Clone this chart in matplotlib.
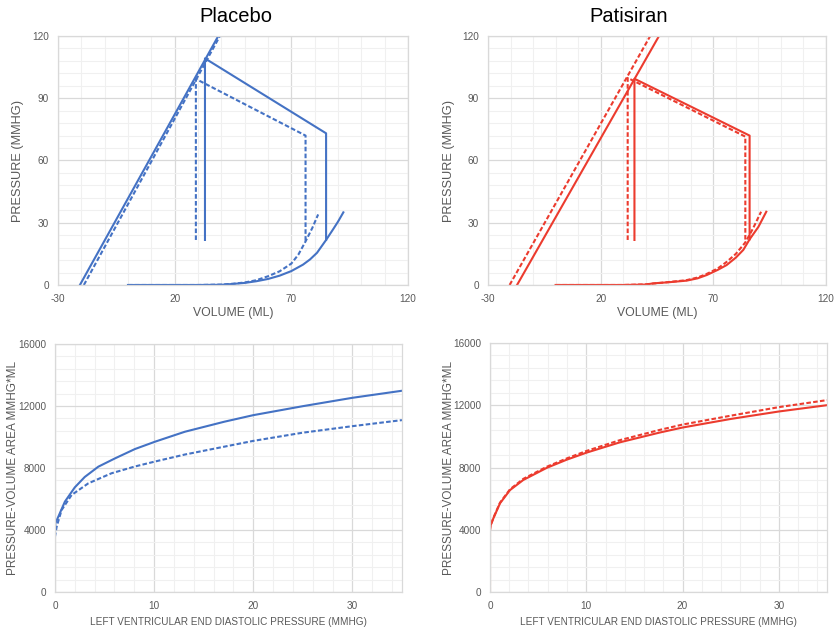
import matplotlib
matplotlib.use("Agg")
import matplotlib.pyplot as plt
from matplotlib.ticker import MultipleLocator

plt.rcParams['font.family'] = ['Liberation Sans', 'DejaVu Sans']
plt.rcParams['axes.unicode_minus'] = False

BLUE = "#4472C4"
RED = "#EC3B2E"
GREY_TXT = "#595959"
MAJ = "#D9D9D9"
MIN = "#F0F0F0"

# ---- top row: pressure-volume loops (volume ml, pressure mmHg) ----
vol_ticks = [-30, 20, 70, 120]
pres_ticks = [0, 30, 60, 90, 120]

# end-systolic pressure-volume relation (two points each)
pl_espvr_v = [-20.6, 38.7]
pl_espvr_p = [0, 120]
pl_espvr_d_v = [-18.9, 39.4]
pl_espvr_d_p = [0, 120]
pa_espvr_v = [-17.1, 45.9]
pa_espvr_p = [0, 120]
pa_espvr_d_v = [-20.4, 42.0]
pa_espvr_d_p = [0, 120]

# loop segments: relaxation line, ejection line, filling drop
pl_loop_v = [33.0, 33.0, 84.9, 84.9]
pl_loop_p = [21.7, 109.2, 73.1, 21.7]
pl_loop_d_v = [29.1, 29.1, 76.1, 76.1]
pl_loop_d_p = [21.7, 99.3, 72.0, 21.0]
pa_loop_v = [35.0, 35.0, 86.1, 86.1]
pa_loop_p = [21.7, 99.4, 72.0, 22.0]
pa_loop_d_v = [32.0, 32.0, 84.2, 84.2]
pa_loop_d_p = [21.7, 99.8, 71.5, 20.5]

# end-diastolic pressure-volume relation
pl_edpvr_v = [0, 30, 40, 45, 50, 55, 60, 65, 70, 75, 78, 81, 84.9, 88, 90, 92.3]
pl_edpvr_p = [0, 0, 0.1, 0.5, 1.0, 1.8, 2.9, 4.5, 6.7, 9.8, 12.3, 15.5, 21.7, 27.0, 30.5, 35.0]
pl_edpvr_d_v = [0, 30, 40, 45, 50, 55, 60, 65, 70, 73, 76.1, 79, 81.5]
pl_edpvr_d_p = [0, 0, 0.2, 0.6, 1.2, 2.3, 4.2, 6.6, 10.3, 14.6, 21.0, 27.5, 34.0]
pa_edpvr_v = [0, 30, 40, 43.4, 50, 58.2, 63, 67.1, 72, 75.9, 80, 83.3, 86.1, 90, 93.5]
pa_edpvr_p = [0, 0, 0.2, 0.8, 1.3, 2.1, 3.2, 4.8, 7.3, 9.6, 13.2, 16.9, 22.0, 28.0, 35.3]
pa_edpvr_d_v = [0, 30, 40, 50, 58, 63, 67, 72, 76, 80, 84.2, 87.5, 91.2]
pa_edpvr_d_p = [0, 0, 0.3, 1.4, 2.3, 3.6, 5.3, 8.0, 11.2, 15.0, 20.5, 27.0, 35.3]

# ---- bottom row: PVA vs LVEDP ----
pl_lvedp = [0, 0, 0.05, 0.34, 1.0, 2.0, 3.0, 4.37, 6.05, 8.07, 10.1, 13.1, 17.1, 20, 25, 30, 35]
pl_pva = [0, 4215, 4450, 4860, 5830, 6750, 7420, 8085, 8620, 9225, 9700, 10340, 10990, 11410, 11990, 12530, 12985]
pl_lvedp_d = [0, 0, 0.17, 0.67, 1.68, 3.36, 5.7, 8.07, 10.1, 13.1, 17.1, 20, 25, 30, 35]
pl_pva_d = [0, 3570, 4215, 5290, 6260, 7010, 7660, 8100, 8420, 8870, 9380, 9750, 10280, 10700, 11090]
pa_lvedp = [0, 0, 0.05, 0.35, 1.04, 2.08, 3.46, 5.9, 7.96, 10, 13.5, 17.65, 20, 25, 30, 35]
pa_pva = [0, 3980, 4250, 4730, 5700, 6550, 7200, 7980, 8500, 8950, 9620, 10250, 10570, 11120, 11600, 12005]
pa_lvedp_d = [0, 0, 0.05, 0.35, 1.04, 2.08, 3.46, 5.9, 7.96, 10, 13.5, 17.65, 20, 25, 30, 35]
pa_pva_d = [0, 3950, 4260, 4760, 5740, 6600, 7270, 8050, 8580, 9060, 9760, 10420, 10760, 11330, 11880, 12330]

fig = plt.figure(figsize=(8.34, 6.28), dpi=100)
ax_tl = fig.add_axes([0.0695, 0.5462, 0.4197, 0.3965])
ax_tr = fig.add_axes([0.5851, 0.5462, 0.4053, 0.3965])
ax_bl = fig.add_axes([0.0659, 0.0573, 0.4161, 0.3949])
ax_br = fig.add_axes([0.5875, 0.0573, 0.4041, 0.3965])

LW = 1.5
DASH = (0, (2.2, 1.1))


def style(ax, xmin, ymin):
    ax.xaxis.set_minor_locator(MultipleLocator(xmin))
    ax.yaxis.set_minor_locator(MultipleLocator(ymin))
    ax.grid(which='minor', color=MIN, lw=0.8)
    ax.grid(which='major', color=MAJ, lw=0.9)
    ax.set_axisbelow(True)
    for s in ax.spines.values():
        s.set_color(MAJ)
        s.set_linewidth(0.9)
    ax.tick_params(which='both', length=0, colors=GREY_TXT, labelsize=7.2)
    ax.tick_params(axis='x', pad=6.5)
    ax.tick_params(axis='y', pad=6.5)


for ax, ylx in ((ax_tl, -0.114), (ax_tr, -0.115)):
    ax.set_xlim(-30, 120)
    ax.set_ylim(0, 120)
    ax.set_xticks(vol_ticks)
    ax.set_yticks(pres_ticks)
    style(ax, 10, 6)
    ax.set_xlabel("VOLUME (ML)", color=GREY_TXT, fontsize=8.8)
    ax.set_ylabel("PRESSURE (MMHG)", color=GREY_TXT, fontsize=9.2)
    ax.xaxis.set_label_coords(0.5, -0.112)
    ax.yaxis.set_label_coords(ylx, 0.5)

for ax in (ax_bl, ax_br):
    ax.set_xlim(0, 35)
    ax.set_ylim(0, 16000)
    ax.set_xticks([0, 10, 20, 30])
    ax.set_yticks([0, 4000, 8000, 12000, 16000])
    style(ax, 2, 800)
    ax.set_xlabel("LEFT VENTRICULAR END DIASTOLIC PRESSURE (MMHG)", color=GREY_TXT,
                  fontsize=7.2)
    ax.set_ylabel("PRESSURE-VOLUME AREA MMHG*ML", color=GREY_TXT, fontsize=8.5)
    ax.xaxis.set_label_coords(0.5, -0.121)
    ax.yaxis.set_label_coords(-0.122, 0.5)

for ax in (ax_tl, ax_tr, ax_bl, ax_br):
    ax.xaxis.label.set_va('center')
    ax.yaxis.label.set_va('center')

# placebo loops
ax_tl.plot(pl_espvr_v, pl_espvr_p, color=BLUE, lw=LW)
ax_tl.plot(pl_espvr_d_v, pl_espvr_d_p, color=BLUE, lw=LW, ls=DASH)
ax_tl.plot(pl_loop_v, pl_loop_p, color=BLUE, lw=LW)
ax_tl.plot(pl_loop_d_v, pl_loop_d_p, color=BLUE, lw=LW, ls=DASH)
ax_tl.plot(pl_edpvr_v, pl_edpvr_p, color=BLUE, lw=LW)
ax_tl.plot(pl_edpvr_d_v, pl_edpvr_d_p, color=BLUE, lw=LW, ls=DASH)

# patisiran loops
ax_tr.plot(pa_espvr_v, pa_espvr_p, color=RED, lw=LW)
ax_tr.plot(pa_espvr_d_v, pa_espvr_d_p, color=RED, lw=LW, ls=DASH)
ax_tr.plot(pa_loop_v, pa_loop_p, color=RED, lw=LW)
ax_tr.plot(pa_loop_d_v, pa_loop_d_p, color=RED, lw=LW, ls=DASH)
ax_tr.plot(pa_edpvr_v, pa_edpvr_p, color=RED, lw=LW)
ax_tr.plot(pa_edpvr_d_v, pa_edpvr_d_p, color=RED, lw=LW, ls=DASH)

# PVA curves
ax_bl.plot(pl_lvedp, pl_pva, color=BLUE, lw=LW)
ax_bl.plot(pl_lvedp_d, pl_pva_d, color=BLUE, lw=LW, ls=DASH)
ax_br.plot(pa_lvedp, pa_pva, color=RED, lw=LW)
ax_br.plot(pa_lvedp_d, pa_pva_d, color=RED, lw=LW, ls=DASH)

fig.text(236 / 834, 1 - 16 / 628, "Placebo", ha='center', va='center', fontsize=14.5, color='black')
fig.text(629 / 834, 1 - 16 / 628, "Patisiran", ha='center', va='center', fontsize=14.5, color='black')

fig.savefig("out.png", dpi=100, facecolor='white')
